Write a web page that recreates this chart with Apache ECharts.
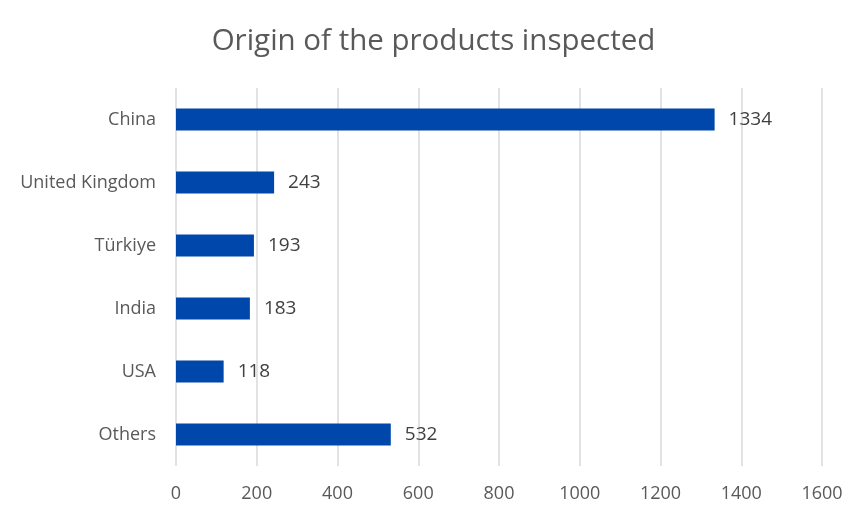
<!DOCTYPE html>
<html><head><meta charset="utf-8">
<script src="https://cdn.jsdelivr.net/npm/echarts@6/dist/echarts.min.js"></script>
<style>html,body{margin:0;padding:0;background:#fff}#c{width:867px;height:516px}</style>
</head><body><div id="c"></div>
<script>
const categories = ['China','United Kingdom','Türkiye','India','USA','Others'];
const values = [1334,243,193,183,118,532];
const titleText = 'Origin of the products inspected';
const FONT = 'Open Sans';
const chart = echarts.init(document.getElementById('c'));
chart.setOption({
  animation:false,
  backgroundColor:'#fff',
  title:{text:titleText,left:'center',top:22,textStyle:{fontFamily:FONT,fontSize:29.5,fontWeight:'normal',color:'#595959'}},
  grid:{left:176,right:45,top:88,bottom:50,containLabel:false},
  xAxis:{type:'value',min:0,max:1600,interval:200,
    axisLine:{show:false},axisTick:{show:false},
    splitLine:{lineStyle:{color:'#d9d9d9',width:1.5}},
    axisLabel:{fontFamily:FONT,fontSize:18,color:'#595959',margin:19,formatter:v=>String(v)}},
  yAxis:{type:'category',data:categories,inverse:true,
    axisLine:{show:false},axisTick:{show:false},
    axisLabel:{fontFamily:FONT,fontSize:18,color:'#595959',margin:20}},
  series:[{type:'bar',data:values,barWidth:22,
    itemStyle:{color:'#0047AB'},
    label:{show:true,position:'right',distance:14,fontFamily:FONT,fontSize:19,color:'#404040'}}]
});
</script></body></html>
